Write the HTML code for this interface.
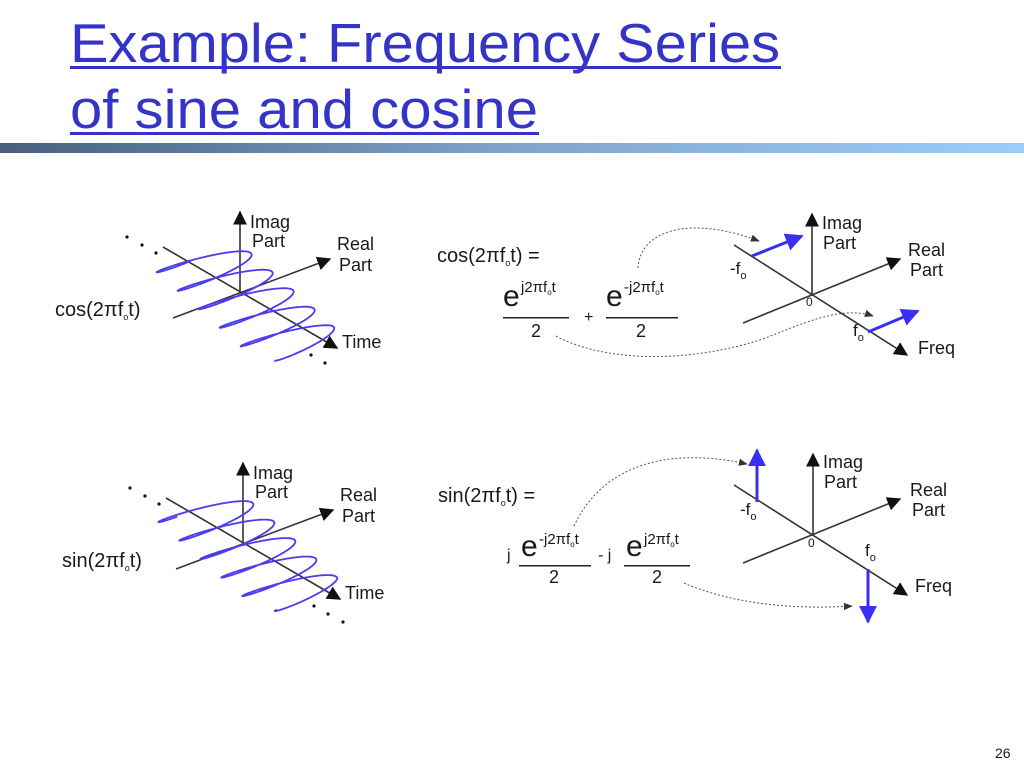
<!DOCTYPE html>
<html><head><meta charset="utf-8"><style>
html,body{margin:0;padding:0;background:#fff;}
svg{display:block;}
text{font-family:"Liberation Sans",Arial,sans-serif;fill:#1a1a1a;}
.t{font-family:"Liberation Sans",sans-serif;fill:#3434c8;font-size:55px;}
</style></head><body>
<svg id="s" width="1024" height="768" viewBox="0 0 1024 768" xmlns="http://www.w3.org/2000/svg">
<defs>
<linearGradient id="band" x1="0" x2="1" y1="0" y2="0">
<stop offset="0" stop-color="#47607e"/><stop offset="0.5" stop-color="#7fa4cc"/><stop offset="1" stop-color="#9ccdfa"/>
</linearGradient>
<marker id="ah2" viewBox="0 0 10 10" refX="9" refY="5" markerWidth="14" markerHeight="14" markerUnits="userSpaceOnUse" orient="auto"><path d="M0,0 L10,5 L0,10 z" fill="#111"/></marker>
<marker id="bh" viewBox="0 0 10 10" refX="9" refY="5" markerWidth="18" markerHeight="18" markerUnits="userSpaceOnUse" orient="auto"><path d="M0,0 L10,5 L0,10 z" fill="#3a2ff0"/></marker>
<marker id="dh" viewBox="0 0 10 10" refX="9" refY="5" markerWidth="9" markerHeight="9" markerUnits="userSpaceOnUse" orient="auto"><path d="M0,1 L10,5 L0,9 z" fill="#333"/></marker>
</defs>
<!-- Title -->
<text class="t" x="70" y="62" textLength="710" lengthAdjust="spacingAndGlyphs">Example: Frequency Series</text>
<rect x="70" y="66" width="711" height="3" fill="#3434c8"/>
<text class="t" x="70" y="128" textLength="468" lengthAdjust="spacingAndGlyphs">of sine and cosine</text>
<rect x="70" y="132" width="469" height="3" fill="#3434c8"/>
<rect x="0" y="143" width="1024" height="10" fill="url(#band)"/>

<!-- top-left -->
<g>
<line x1="163" y1="247" x2="337" y2="348" stroke="#333" stroke-width="1.6" marker-end="url(#ah2)"/>
<line x1="173" y1="318" x2="330" y2="259" stroke="#333" stroke-width="1.6" marker-end="url(#ah2)"/>
<line x1="240" y1="293" x2="240" y2="212" stroke="#333" stroke-width="1.6" marker-end="url(#ah2)"/>
<path class="wave" fill="none" stroke="#4b3cf0" stroke-width="1.8"/>
<circle cx="127" cy="237" r="1.6" fill="#111"/><circle cx="142" cy="245" r="1.6" fill="#111"/><circle cx="156" cy="253" r="1.6" fill="#111"/>
<circle cx="311" cy="355" r="1.6" fill="#111"/><circle cx="325" cy="363" r="1.6" fill="#111"/>
<text x="250" y="228" font-size="18">Imag</text><text x="252" y="247" font-size="18">Part</text>
<text x="337" y="250" font-size="18">Real</text><text x="339" y="271" font-size="18">Part</text>
<text x="342" y="348" font-size="18">Time</text>
</g>
<text x="55" y="316" font-size="20">cos(2πf<tspan font-size="9" dy="4">o</tspan><tspan dy="-4">t)</tspan></text>

<!-- bottom-left -->
<g transform="translate(3,251)">
<line x1="163" y1="247" x2="337" y2="348" stroke="#333" stroke-width="1.6" marker-end="url(#ah2)"/>
<line x1="173" y1="318" x2="330" y2="259" stroke="#333" stroke-width="1.6" marker-end="url(#ah2)"/>
<line x1="240" y1="293" x2="240" y2="212" stroke="#333" stroke-width="1.6" marker-end="url(#ah2)"/>
<path class="wave" data-ph="1" fill="none" stroke="#4b3cf0" stroke-width="1.8"/>
<circle cx="127" cy="237" r="1.6" fill="#111"/><circle cx="142" cy="245" r="1.6" fill="#111"/><circle cx="156" cy="253" r="1.6" fill="#111"/>
<circle cx="311" cy="355" r="1.6" fill="#111"/><circle cx="325" cy="363" r="1.6" fill="#111"/><circle cx="340" cy="371" r="1.6" fill="#111"/>
<text x="250" y="228" font-size="18">Imag</text><text x="252" y="247" font-size="18">Part</text>
<text x="337" y="250" font-size="18">Real</text><text x="339" y="271" font-size="18">Part</text>
<text x="342" y="348" font-size="18">Time</text>
</g>
<text x="62" y="567" font-size="20">sin(2πf<tspan font-size="9" dy="4">o</tspan><tspan dy="-4">t)</tspan></text>

<!-- top-right -->
<line x1="734" y1="245" x2="907" y2="355" stroke="#333" stroke-width="1.6" marker-end="url(#ah2)"/>
<line x1="743" y1="323" x2="900" y2="259" stroke="#333" stroke-width="1.6" marker-end="url(#ah2)"/>
<line x1="812" y1="295" x2="812" y2="214" stroke="#333" stroke-width="1.6" marker-end="url(#ah2)"/>
<line x1="752" y1="256" x2="802" y2="236" stroke="#3a2ff0" stroke-width="3" marker-end="url(#bh)"/>
<line x1="868" y1="332" x2="918" y2="311" stroke="#3a2ff0" stroke-width="3" marker-end="url(#bh)"/>
<text x="822" y="229" font-size="18">Imag</text><text x="823" y="249" font-size="18">Part</text>
<text x="908" y="256" font-size="18">Real</text><text x="910" y="276" font-size="18">Part</text>
<text x="730" y="274" font-size="17">-f<tspan font-size="11" dy="5">o</tspan></text>
<text x="806" y="306" font-size="12">0</text>
<text x="853" y="336" font-size="17">f<tspan font-size="11" dy="5">o</tspan></text>
<text x="918" y="354" font-size="18">Freq</text>
<text x="437" y="262" font-size="20">cos(2πf<tspan font-size="9" dy="4">o</tspan><tspan dy="-4">t) =</tspan></text>
<text x="503" y="306" font-size="30">e</text><text x="521" y="292" font-size="15">j2πf<tspan font-size="8" dy="3">o</tspan><tspan dy="-3">t</tspan></text>
<rect x="503" y="317" width="66" height="1.5" fill="#222"/>
<text x="531" y="337" font-size="18">2</text>
<text x="584" y="322" font-size="16">+</text>
<text x="606" y="306" font-size="30">e</text><text x="624" y="292" font-size="15">-j2πf<tspan font-size="8" dy="3">o</tspan><tspan dy="-3">t</tspan></text>
<rect x="606" y="317" width="72" height="1.5" fill="#222"/>
<text x="636" y="337" font-size="18">2</text>
<path d="M638,268 C640,230 690,215 759,241" fill="none" stroke="#555" stroke-width="1" stroke-dasharray="2,2" marker-end="url(#dh)"/>
<path d="M556,336 C600,360 680,365 760,340 C800,325 840,305 873,316" fill="none" stroke="#555" stroke-width="1" stroke-dasharray="2,2" marker-end="url(#dh)"/>

<!-- bottom-right -->
<line x1="734" y1="485" x2="907" y2="595" stroke="#333" stroke-width="1.6" marker-end="url(#ah2)"/>
<line x1="743" y1="563" x2="900" y2="499" stroke="#333" stroke-width="1.6" marker-end="url(#ah2)"/>
<line x1="813" y1="535" x2="813" y2="454" stroke="#333" stroke-width="1.6" marker-end="url(#ah2)"/>
<line x1="757" y1="502" x2="757" y2="450" stroke="#3a2ff0" stroke-width="3" marker-end="url(#bh)"/>
<line x1="868" y1="569" x2="868" y2="622" stroke="#3a2ff0" stroke-width="3" marker-end="url(#bh)"/>
<text x="823" y="468" font-size="18">Imag</text><text x="824" y="488" font-size="18">Part</text>
<text x="910" y="496" font-size="18">Real</text><text x="912" y="516" font-size="18">Part</text>
<text x="740" y="515" font-size="17">-f<tspan font-size="11" dy="5">o</tspan></text>
<text x="808" y="547" font-size="12">0</text>
<text x="865" y="556" font-size="17">f<tspan font-size="11" dy="5">o</tspan></text>
<text x="915" y="592" font-size="18">Freq</text>
<text x="438" y="502" font-size="20">sin(2πf<tspan font-size="9" dy="4">o</tspan><tspan dy="-4">t) =</tspan></text>
<text x="507" y="560" font-size="16">j</text>
<text x="521" y="556" font-size="30">e</text><text x="539" y="544" font-size="15">-j2πf<tspan font-size="8" dy="3">o</tspan><tspan dy="-3">t</tspan></text>
<rect x="519" y="565" width="72" height="1.5" fill="#222"/>
<text x="549" y="583" font-size="18">2</text>
<text x="598" y="560" font-size="16">- j</text>
<text x="626" y="556" font-size="30">e</text><text x="644" y="544" font-size="15">j2πf<tspan font-size="8" dy="3">o</tspan><tspan dy="-3">t</tspan></text>
<rect x="624" y="565" width="66" height="1.5" fill="#222"/>
<text x="652" y="583" font-size="18">2</text>
<path d="M574,526 C600,470 660,445 747,464" fill="none" stroke="#555" stroke-width="1" stroke-dasharray="2,2" marker-end="url(#dh)"/>
<path d="M684,583 C730,603 790,610 852,606" fill="none" stroke="#555" stroke-width="1" stroke-dasharray="2,2" marker-end="url(#dh)"/>

<text x="995" y="758" font-size="14">26</text>
</svg>
<script>
document.querySelectorAll('.wave').forEach(function(p){
  var ph = p.getAttribute('data-ph') ? 0.4 : 0;
  var d='', N=900, cyc=5.2, th0=Math.PI*0.55+ph;
  for(var i=0;i<=N;i++){
    var u=i/N, th=th0+2*Math.PI*cyc*u;
    var cx=194+u*cyc*21, cy=254+u*cyc*18.5;
    var k=(u>0.9?1-(u-0.9)*3:1);
    var c=Math.cos(th), s=Math.sin(th);
    var x=cx+42*k*c+3*s;
    var y=cy-14*k*c+5*s;
    d+=(i?'L':'M')+x.toFixed(1)+','+y.toFixed(1);
  }
  p.setAttribute('d',d);
});
</script>
</body></html>
